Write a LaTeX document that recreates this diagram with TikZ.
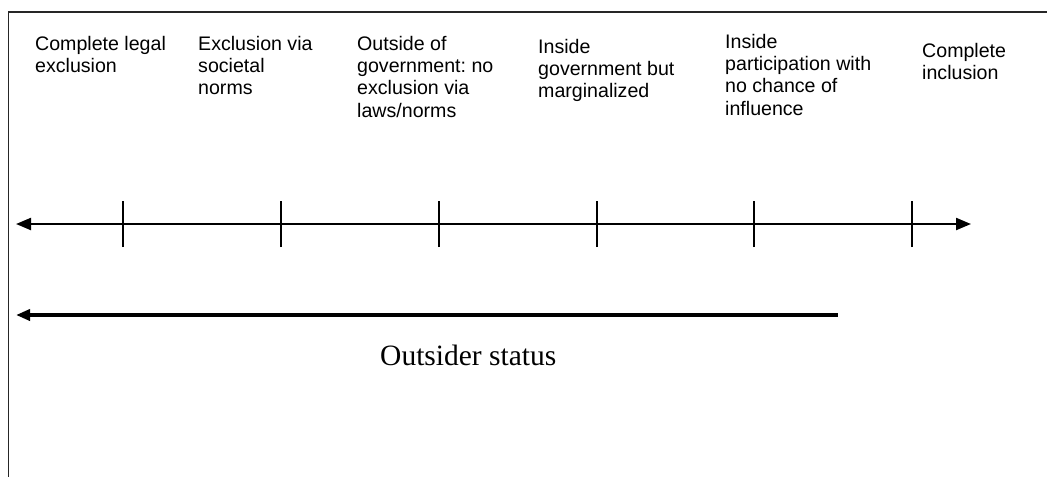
\documentclass[tikz,border=0pt]{standalone}
\usepackage{fontspec}
\setmainfont{Liberation Serif}
\newfontfamily\labelfont{Liberation Sans}
\usetikzlibrary{arrows.meta}
\frenchspacing

\begin{document}
\begin{tikzpicture}[x=1pt,y=-1pt,
  lbl/.style={anchor=base west, inner sep=0pt, align=left,
    font=\labelfont\fontsize{19.6}{22.4}\selectfont},
  tickmark/.style={line width=2.6pt},
  axisline/.style={line width=2.2pt,
    {Triangle[length=15pt,width=12pt]}-{Triangle[length=15pt,width=12pt]}},
  statusline/.style={line width=3.6pt,
    {Triangle[length=14pt,width=11pt]}-},
  frameline/.style={line width=1.7pt, black!85},
]
\useasboundingbox (0,0) rectangle (1047,477);

% open frame: top and left edges
\draw[frameline] (1047,12) -- (8.5,12) -- (8.5,477);

% category labels along the top (anchored at the baseline of their last line)
\node[lbl] (c1) at (35,72.4)   {Complete legal\\exclusion};
\node[lbl] (c2) at (198,94.8)  {Exclusion via\\societal\\norms};
\node[lbl] (c3) at (357,117.2) {Outside of\\government: no\\exclusion via\\laws/norms};
\node[lbl] (c4) at (538,97.8)  {Inside\\government but\\marginalized};
\node[lbl] (c5) at (725,115.2) {Inside\\participation with\\no chance of\\influence};
\node[lbl] (c6) at (922,79.4)  {Complete\\inclusion};

% the scale with its tick marks
\coordinate (axL) at (16,224);
\coordinate (axR) at (971,224);
\draw[axisline] (axL) -- (axR);
\foreach \i/\x in {1/123,2/281,3/439,4/597,5/754,6/912} {
  \coordinate (t\i) at (\x,224);
  \draw[tickmark] ([yshift=-23pt]t\i) -- ([yshift=23pt]t\i);
}

% outsider range
\coordinate (stR) at (838,315);
\coordinate (stL) at (16,315);
\draw[statusline] (stL) -- (stR);
\node[anchor=base west, inner sep=0pt, font=\fontsize{29.5}{34}\selectfont]
  (status) at (380,365) {Outsider status};
\end{tikzpicture}
\end{document}
